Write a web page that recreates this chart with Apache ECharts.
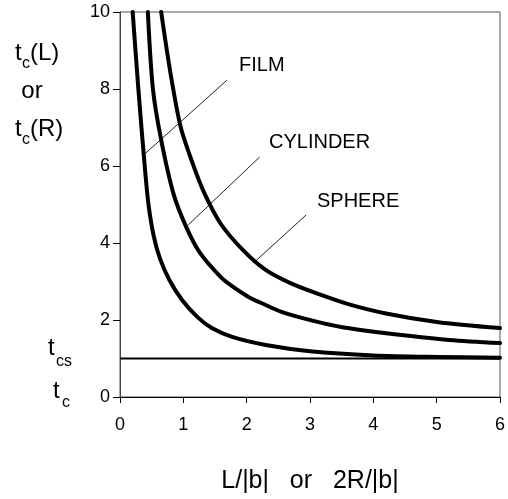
<!DOCTYPE html>
<html>
<head>
<meta charset="utf-8">
<script src="https://cdn.jsdelivr.net/npm/echarts@6/dist/echarts.min.js"></script>
<style>html,body{margin:0;padding:0;background:#fff}#c{width:508px;height:499px}</style>
</head>
<body>
<div id="c"></div>
<script>
// Curve data: [L/|b| or 2R/|b|, tc]
var filmCurve = [[0.20,10],[0.29,8.0],[0.39,6.0],[0.45,5.0],[0.53,4.2],[0.63,3.6],[0.78,3.04],[0.98,2.52],[1.22,2.08],[1.45,1.79],[1.77,1.56],[2.30,1.35],[3.0,1.19],[4.0,1.08],[5.0,1.04],[6.0,1.02]];
var cylinderCurve = [[0.44,10],[0.52,8.0],[0.65,6.68],[0.85,5.25],[1.05,4.4],[1.26,3.75],[1.6,3.1],[1.77,2.88],[2.03,2.60],[2.30,2.39],[2.55,2.21],[2.81,2.08],[3.2,1.92],[3.59,1.79],[4.17,1.66],[5.2,1.48],[6.0,1.40]];
var sphereCurve = [[0.65,10],[0.74,9.0],[0.84,8.0],[0.96,7.0],[1.14,6.1],[1.33,5.3],[1.59,4.5],[1.95,3.8],[2.3,3.3],[2.7,2.95],[3.125,2.68],[3.59,2.42],[4.2,2.17],[5.0,1.95],[6.0,1.79]];
var tcsLine = [[0,1],[6,1]];
// Leader lines (annotation endpoints in data units)
var filmLeader = [[0.375,6.29],[1.69,8.23]];
var cylinderLeader = [[1.078,4.47],[2.203,6.23]];
var sphereLeader = [[2.14,3.53],[2.94,4.73]];
var xTicks = {min:0, max:6, interval:1};
var yTicks = {min:0, max:10, interval:2};
var curveNames = ['FILM','CYLINDER','SPHERE'];

var FONT = 'Liberation Sans, Arial, Helvetica, sans-serif';
var chart = echarts.init(document.getElementById('c'), null, {renderer:'canvas'});

function curve(data){
  return {type:'line', data:data, smooth:0.3, showSymbol:false, symbol:'none',
    lineStyle:{color:'#000', width:4, cap:'round', join:'round'}, clip:true, silent:true, z:3};
}
function leader(data){
  return {type:'line', data:data, showSymbol:false, symbol:'none',
    lineStyle:{color:'#222', width:1}, silent:true, z:2};
}
function txt(x,y,s,size,align){
  return {type:'text', x:x, y:y, silent:true,
    style:{text:s, fill:'#000', fontSize:size, fontFamily:FONT, textAlign:align||'left', textVerticalAlign:'middle'}};
}

chart.setOption({
  animation:false,
  backgroundColor:'#fff',
  grid:{left:120, right:4, top:12, bottom:102, show:true, borderColor:'#555', borderWidth:1, containLabel:false},
  xAxis:{type:'value', min:xTicks.min, max:xTicks.max, interval:xTicks.interval,
    axisLine:{show:true, onZero:false, lineStyle:{color:'#000', width:1}},
    axisTick:{show:true, inside:false, length:6, lineStyle:{color:'#000'}},
    splitLine:{show:false},
    axisLabel:{color:'#000', fontSize:18, fontFamily:FONT, margin:19},
    name:'L/|b|   or   2R/|b|', nameLocation:'middle', nameGap:72,
    nameTextStyle:{color:'#000', fontSize:25, fontFamily:FONT}},
  yAxis:{type:'value', min:yTicks.min, max:yTicks.max, interval:yTicks.interval,
    axisLine:{show:true, onZero:false, lineStyle:{color:'#444', width:1}},
    axisTick:{show:true, inside:false, length:7, lineStyle:{color:'#000'}},
    splitLine:{show:false},
    axisLabel:{color:'#000', fontSize:18, fontFamily:FONT, margin:10}},
  series:[
    {type:'line', data:tcsLine, showSymbol:false, symbol:'none', lineStyle:{color:'#000', width:2}, silent:true, z:2},
    leader(filmLeader), leader(cylinderLeader), leader(sphereLeader),
    curve(filmCurve), curve(cylinderCurve), curve(sphereCurve)
  ],
  graphic:[
    txt(239,65,curveNames[0],20), txt(269,142,curveNames[1],20), txt(317,201,curveNames[2],20),
    txt(15,53,'t',24), txt(22,64,'c',16), txt(30,53,'(L)',24),
    txt(32,91,'or',24,'center'),
    txt(15,129,'t',24), txt(22,140,'c',16), txt(30,129,'(R)',24),
    txt(48,348,'t',24), txt(56,362,'cs',16),
    txt(53,391,'t',24), txt(62,403,'c',16)
  ]
});
</script>
</body>
</html>
